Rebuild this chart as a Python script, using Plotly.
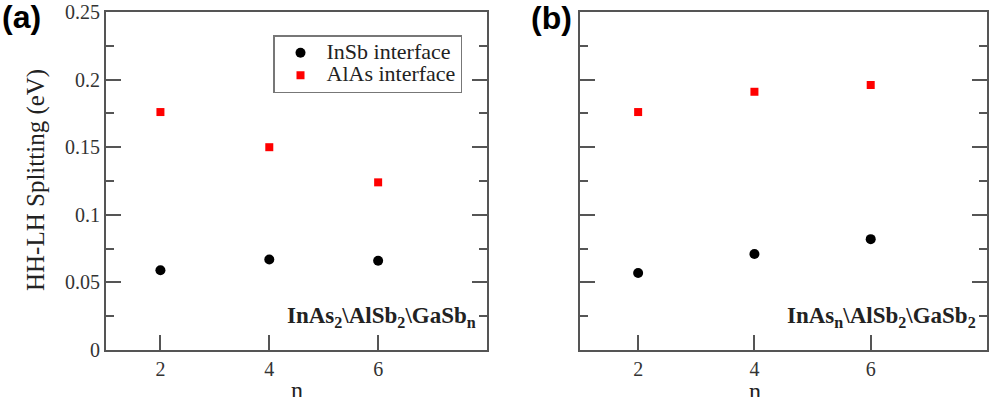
import plotly.graph_objects as go

n_vals = [2, 4, 6]
a_insb = [0.059, 0.067, 0.066]
a_alas = [0.176, 0.150, 0.124]
b_insb = [0.057, 0.071, 0.082]
b_alas = [0.176, 0.191, 0.196]
series_names = ["InSb interface", "AlAs interface"]

W, H = 997, 397
SERIF = "Liberation Serif, Times New Roman, serif"
AX = "#555555"

def px(x):
    return x / W

def py(y):
    return 1 - y / H

def legname(s):
    return '<span style="font-size:22px">' + s + '</span>'

fig = go.Figure()
fig.add_trace(go.Scatter(x=n_vals, y=a_insb, mode="markers", name=legname(series_names[0]),
                         marker=dict(symbol="circle", size=10, color="black"),
                         xaxis="x", yaxis="y"))
fig.add_trace(go.Scatter(x=n_vals, y=a_alas, mode="markers", name=legname(series_names[1]),
                         marker=dict(symbol="square", size=8, color="#ff0000"),
                         xaxis="x", yaxis="y"))
fig.add_trace(go.Scatter(x=n_vals, y=b_insb, mode="markers", showlegend=False,
                         marker=dict(symbol="circle", size=10, color="black"),
                         xaxis="x2", yaxis="y2"))
fig.add_trace(go.Scatter(x=n_vals, y=b_alas, mode="markers", showlegend=False,
                         marker=dict(symbol="square", size=8, color="#ff0000"),
                         xaxis="x2", yaxis="y2"))

ydom = [py(350), py(12)]

fig.update_layout(
    template="none",
    width=W, height=H, margin=dict(l=0, r=0, t=0, b=0, pad=0, autoexpand=False),
    paper_bgcolor="white", plot_bgcolor="rgba(0,0,0,0)",
    xaxis=dict(domain=[px(106), px(487)], anchor="y", range=[1, 8], tickvals=[2, 4, 6],
               ticks="inside", ticklen=15, tickwidth=2, tickcolor="#555555",
               showline=True, linecolor=AX, linewidth=2, mirror=True, automargin=False,
               showgrid=False, zeroline=False,
               tickfont=dict(family=SERIF, size=20, color="#333")),
    xaxis2=dict(domain=[px(580), px(987)], anchor="y2", range=[1, 8], tickvals=[2, 4, 6],
                ticks="inside", ticklen=15, tickwidth=2, tickcolor="#555555",
                showline=True, linecolor=AX, linewidth=2, mirror=True, automargin=False,
                showgrid=False, zeroline=False,
                tickfont=dict(family=SERIF, size=20, color="#333")),
    yaxis=dict(domain=ydom, anchor="x", range=[0, 0.25], dtick=0.05,
               ticks="inside", ticklen=15, tickwidth=2, tickcolor="#555555",
               minor=dict(dtick=0.025, ticks="inside", ticklen=8, tickwidth=2, tickcolor="#555555"),
               showline=True, linecolor=AX, linewidth=2, mirror="ticks", automargin=False,
               showgrid=False, zeroline=False,
               tickfont=dict(family=SERIF, size=20, color="#333")),
    yaxis2=dict(domain=ydom, anchor="x2", range=[0, 0.25], dtick=0.05,
                ticks="inside", ticklen=15, tickwidth=2, tickcolor="#555555",
                minor=dict(dtick=0.025, ticks="inside", ticklen=8, tickwidth=2, tickcolor="#555555"),
                showline=True, linecolor=AX, linewidth=2, mirror="ticks", automargin=False,
                showgrid=False, zeroline=False, showticklabels=False),
    legend=dict(x=px(273), y=py(35), xanchor="left", yanchor="top",
                bordercolor="#777", borderwidth=1.5, bgcolor="white",
                font=dict(family=SERIF, size=15, color="#222"),
                tracegroupgap=0, itemwidth=42),
    showlegend=True,
)

ann = [
    dict(x=px(21), y=py(17), text="<b>(a)</b>", font=dict(family="Liberation Sans, Arial, sans-serif", size=32, color="black")),
    dict(x=px(551), y=py(18), text="<b>(b)</b>", font=dict(family="Liberation Sans, Arial, sans-serif", size=32, color="black")),
    dict(x=px(297), y=py(390), text="n", font=dict(family=SERIF, size=24, color="#222")),
    dict(x=px(755), y=py(391), text="n", font=dict(family=SERIF, size=24, color="#222")),
    dict(x=px(36), y=py(180), text="HH-LH Splitting (eV)", textangle=-90,
         font=dict(family=SERIF, size=25, color="#222")),
    dict(x=px(478), y=py(317), xanchor="right", text="<b>InAs<sub>2</sub>\\AlSb<sub>2</sub>\\GaSb<sub>n</sub></b>",
         font=dict(family=SERIF, size=23, color="#222")),
    dict(x=px(978), y=py(317), xanchor="right", text="<b>InAs<sub>n</sub>\\AlSb<sub>2</sub>\\GaSb<sub>2</sub></b>",
         font=dict(family=SERIF, size=23, color="#222")),
]
for a in ann:
    a.setdefault("xanchor", "center")
    a.update(xref="paper", yref="paper", yanchor="middle", showarrow=False)
fig.update_layout(annotations=ann)

fig.write_html("out.html")
